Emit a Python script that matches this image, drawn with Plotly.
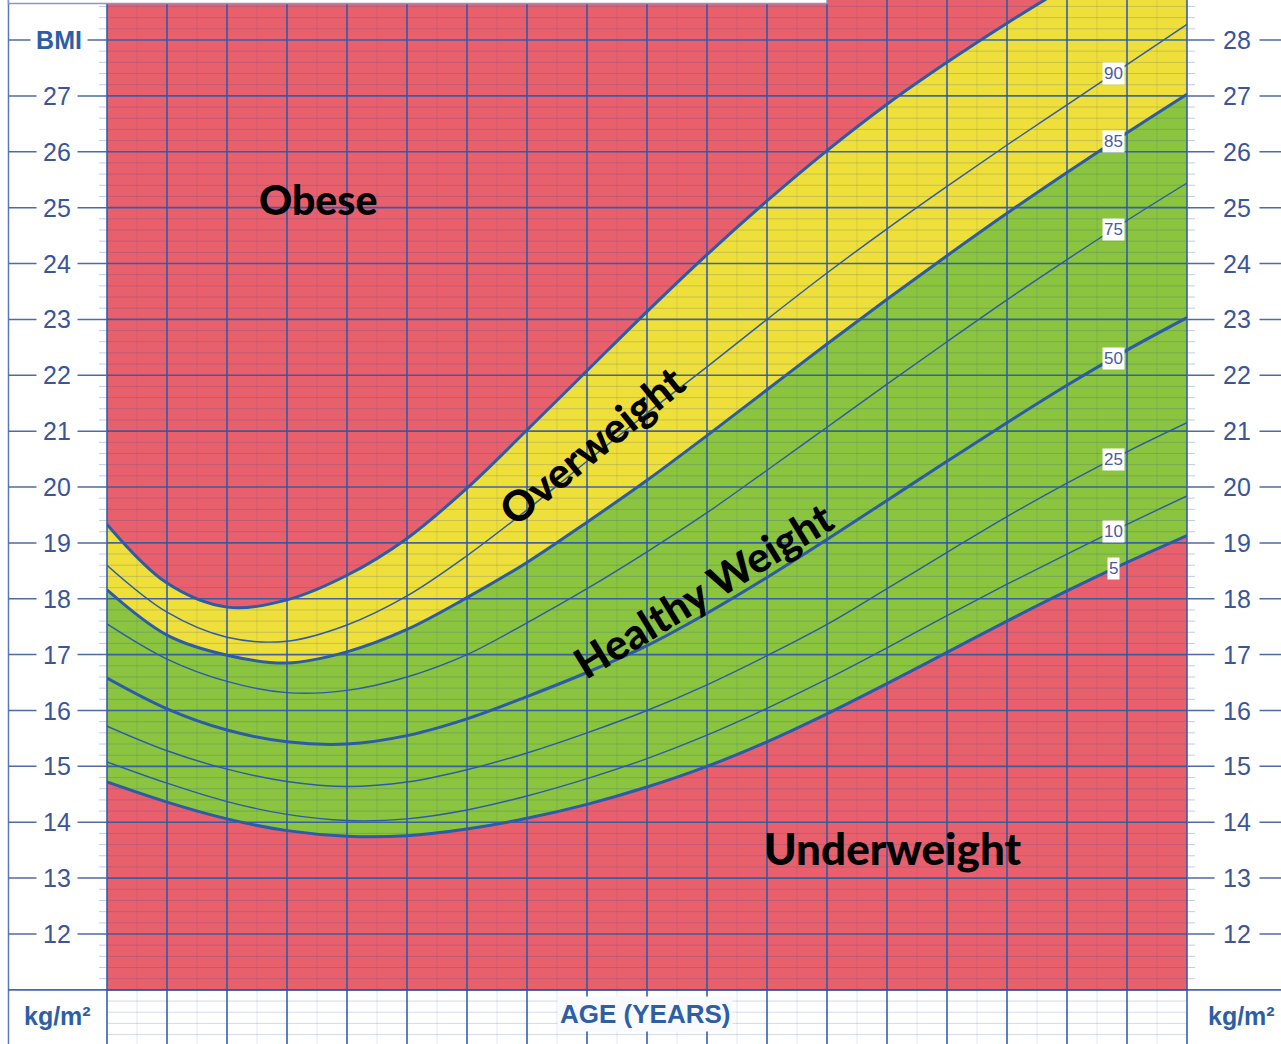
import numpy as np
import plotly.graph_objects as go

# ---------------- data ----------------
ages = [2, 3, 4, 5, 6, 7, 8, 9, 10, 11, 12, 13, 14, 15, 16, 17, 18, 19, 20]
p5 = [14.72, 14.36, 14.06, 13.85, 13.75, 13.76, 13.88, 14.07, 14.32, 14.63, 15.00, 15.44,
      15.94, 16.48, 17.04, 17.60, 18.14, 18.65, 19.13]
p10 = [15.08, 14.70, 14.37, 14.14, 14.03, 14.06, 14.22, 14.47, 14.78, 15.14, 15.56, 16.04,
       16.56, 17.12, 17.70, 18.26, 18.80, 19.33, 19.84]
p25 = [15.72, 15.28, 14.95, 14.73, 14.64, 14.72, 14.94, 15.24, 15.60, 16.00, 16.46, 16.98,
       17.54, 18.18, 18.83, 19.47, 20.07, 20.63, 21.15]
p50 = [16.58, 16.03, 15.65, 15.44, 15.40, 15.55, 15.85, 16.25, 16.68, 17.16, 17.74, 18.38,
       19.06, 19.76, 20.46, 21.15, 21.82, 22.45, 23.03]
p75 = [17.55, 16.92, 16.52, 16.32, 16.36, 16.60, 17.00, 17.57, 18.18, 18.84, 19.54, 20.30,
       21.07, 21.84, 22.60, 23.35, 24.07, 24.77, 25.44]
p85 = [18.16, 17.35, 16.99, 16.85, 17.05, 17.45, 18.02, 18.65, 19.37, 20.12, 20.92, 21.74,
       22.56, 23.36, 24.14, 24.90, 25.63, 26.34, 27.03]
p90 = [18.60, 17.76, 17.31, 17.24, 17.53, 18.05, 18.77, 19.59, 20.46, 21.32, 22.15, 23.00,
       23.83, 24.62, 25.38, 26.12, 26.84, 27.56, 28.28]
p95 = [19.33, 18.28, 17.85, 17.98, 18.42, 19.08, 19.98, 21.02, 22.08, 23.14, 24.16, 25.12,
       26.02, 26.85, 27.60, 28.30, 28.96, 29.60, 30.20]

percentile_names = ["5", "10", "25", "50", "75", "85", "90", "95"]
left_ticks = [12, 13, 14, 15, 16, 17, 18, 19, 20, 21, 22, 23, 24, 25, 26, 27]
right_ticks = [12, 13, 14, 15, 16, 17, 18, 19, 20, 21, 22, 23, 24, 25, 26, 27, 28]
age_ticks = list(range(2, 21))

zone_labels = ["Obese", "Overweight", "Healthy Weight", "Underweight"]

# ---------------- geometry ----------------
W, H = 1281, 1044
PL, PR = 107, 1187           # plot area in px (ages 2..20)
PX_PER_BMI = 55.875
Y_TOP = 28 + 40 / PX_PER_BMI
Y_BOT = 28 - (H - 40) / PX_PER_BMI
X_MIN, X_MAX = 2, 20


def pxx(px):
    return (px - PL) / (PR - PL)


def pxy(py):
    return (H - py) / H


RED = "#E9606D"
YELLOW = "#EFDF3B"
GREEN = "#8BC43F"
GRID = "rgba(45,88,170,0.9)"
MINOR = "rgba(40,70,150,0.20)"
CURVE = "#2C5BA8"
LABEL = "#3A559A"
TITLE = "#2E5EA6"

fig = go.Figure()

# coloured bands
fig.add_trace(go.Scatter(x=ages, y=p5, mode="lines", line=dict(width=0, shape="spline"),
                         hoverinfo="skip", showlegend=False))
fig.add_trace(go.Scatter(x=ages, y=p85, mode="lines", line=dict(width=0, shape="spline"),
                         fill="tonexty", fillcolor=GREEN, hoverinfo="skip", showlegend=False))
fig.add_trace(go.Scatter(x=ages, y=p85, mode="lines", line=dict(width=0, shape="spline"),
                         hoverinfo="skip", showlegend=False))
fig.add_trace(go.Scatter(x=ages, y=p95, mode="lines", line=dict(width=0, shape="spline"),
                         fill="tonexty", fillcolor=YELLOW, hoverinfo="skip", showlegend=False))


# grid
def hlines(values):
    xs, ys = [], []
    for v in values:
        xs += [X_MIN, X_MAX, None]
        ys += [v, v, None]
    return xs, ys


def vlines(values):
    xs, ys = [], []
    for v in values:
        xs += [v, v, None]
        ys += [Y_BOT, Y_TOP, None]
    return xs, ys


minor_h = [round(10.2 + 0.2 * i, 1) for i in range(93)]
minor_h = [v for v in minor_h if abs(v - round(v)) > 1e-6 and v < Y_TOP]
mx, my = hlines(minor_h)
fig.add_trace(go.Scatter(x=mx, y=my, mode="lines", line=dict(color=MINOR, width=1),
                         hoverinfo="skip", showlegend=False))
mvx, mvy = vlines([a + 0.5 for a in age_ticks[:-1]])
fig.add_trace(go.Scatter(x=mvx, y=mvy, mode="lines", line=dict(color="rgba(40,70,150,0.13)", width=1),
                         hoverinfo="skip", showlegend=False))
hx, hy = hlines(list(range(11, 29)))
fig.add_trace(go.Scatter(x=hx, y=hy, mode="lines", line=dict(color=GRID, width=1.7),
                         hoverinfo="skip", showlegend=False))
vx, vy = vlines(age_ticks[1:-1])
fig.add_trace(go.Scatter(x=vx, y=vy, mode="lines", line=dict(color=GRID, width=1.7),
                         hoverinfo="skip", showlegend=False))

# percentile curves
series = [p5, p10, p25, p50, p75, p85, p90, p95]
thick = {"5", "50", "85", "95"}
for name, vals in zip(percentile_names, series):
    fig.add_trace(go.Scatter(x=ages, y=vals, mode="lines", name=name,
                             line=dict(color=CURVE, width=3 if name in thick else 1.4,
                                       shape="spline"),
                             showlegend=False))

shapes = []
# red background (obese + underweight zones)
shapes.append(dict(type="rect", xref="x", yref="y", x0=X_MIN, x1=X_MAX, y0=11, y1=Y_TOP,
                   fillcolor=RED, line=dict(width=0), layer="below"))
# plot edges
for xp in (0, 1):
    shapes.append(dict(type="line", xref="paper", yref="paper", x0=xp, x1=xp, y0=0, y1=1,
                       line=dict(color=GRID, width=1.7)))
# left outer border
shapes.append(dict(type="line", xref="paper", yref="paper", x0=pxx(8.5), x1=pxx(8.5), y0=0, y1=1,
                   line=dict(color="#5A78B5", width=1.5)))
# BMI 11 line across full width
shapes.append(dict(type="line", xref="paper", yref="y", x0=pxx(8.5), x1=pxx(W), y0=11, y1=11,
                   line=dict(color=GRID, width=1.7)))
# tick dashes in margins
for v in left_ticks + [28]:
    shapes.append(dict(type="line", xref="paper", yref="y", x0=pxx(8.5), x1=0, y0=v, y1=v,
                       line=dict(color="#4E6AA8", width=1.5)))
for v in right_ticks:
    shapes.append(dict(type="line", xref="paper", yref="y", x0=1, x1=pxx(W), y0=v, y1=v,
                       line=dict(color="#4E6AA8", width=1.5)))
# minor margin ticks
for v in minor_h:
    if v < 11:
        continue
    shapes.append(dict(type="line", xref="paper", yref="y", x0=pxx(99), x1=0, y0=v, y1=v,
                       line=dict(color="rgba(90,110,170,0.35)", width=1)))
    shapes.append(dict(type="line", xref="paper", yref="y", x0=1, x1=pxx(PR + 8), y0=v, y1=v,
                       line=dict(color="rgba(90,110,170,0.35)", width=1)))
# cut-off white title box at top
shapes.append(dict(type="rect", xref="paper", yref="paper", x0=pxx(8.5), x1=pxx(827),
                   y0=pxy(3.5), y1=1.02, fillcolor="white",
                   line=dict(color="#8598C6", width=1.5)))

annotations = []
tick_font = dict(family="Arial, Liberation Sans", size=25, color=LABEL)
for v in left_ticks:
    annotations.append(dict(xref="paper", yref="y", x=pxx(57), y=v, text=str(v), showarrow=False,
                            xanchor="center", yanchor="middle",
                            font=tick_font, bgcolor="white", width=40, borderpad=0))
annotations.append(dict(xref="paper", yref="y", x=pxx(59), y=28, text="<b>BMI</b>", showarrow=False,
                        xanchor="center", yanchor="middle",
                        font=dict(family="Arial, Liberation Sans", size=25, color=TITLE),
                        bgcolor="white", width=56, borderpad=0))
for v in right_ticks:
    annotations.append(dict(xref="paper", yref="y", x=pxx(1237), y=v, text=str(v), showarrow=False,
                            xanchor="center", yanchor="middle",
                            font=tick_font, bgcolor="white", width=44, borderpad=0))
unit_font = dict(family="Arial, Liberation Sans", size=25, color=TITLE)
unit_text = "<b>kg/m²</b>"
annotations.append(dict(xref="paper", yref="paper", x=pxx(57), y=pxy(1016),
                        xanchor="center", yanchor="middle",
                        text=unit_text, showarrow=False, font=unit_font))
annotations.append(dict(xref="paper", yref="paper", x=pxx(1242), y=pxy(1016),
                        xanchor="center", yanchor="middle",
                        text=unit_text, showarrow=False, font=unit_font))
annotations.append(dict(xref="x", yref="paper", x=10.97, y=pxy(1014), text="<b>AGE (YEARS)</b>",
                        xanchor="center", yanchor="middle",
                        showarrow=False, bgcolor="#F8FAFD", borderpad=2,
                        font=dict(family="Arial, Liberation Sans", size=26, color=TITLE)))

# percentile labels on the curves
label_age = 18.77
for name, vals in zip(percentile_names, series):
    if name == "95":
        continue
    yv = float(np.interp(label_age, ages, vals))
    annotations.append(dict(xref="x", yref="y", x=label_age, y=yv, text=name, showarrow=False,
                            xanchor="center", yanchor="middle",
                            bgcolor="white", borderpad=1,
                            font=dict(family="Arial, Liberation Sans", size=17, color="#4B5A9C")))

# zone labels
zone_pos = {"Obese": (5.52, 25.14, 0, 41),
            "Overweight": (10.08, 20.75, -39, 42),
            "Healthy Weight": (11.93, 18.16, -31.5, 42),
            "Underweight": (15.10, 13.54, 0, 44)}
for z in zone_labels:
    xa, ya, ang, sz = zone_pos[z]
    annotations.append(dict(xref="x", yref="y", x=xa, y=ya, text=z, showarrow=False,
                            xanchor="center", yanchor="middle",
                            textangle=ang, font=dict(family="Lato", size=sz, color="black",
                                                     weight=900)))

fig.update_layout(
    width=W, height=H,
    margin=dict(l=PL, r=W - PR, t=0, b=0, pad=0),
    paper_bgcolor="white", plot_bgcolor="white",
    xaxis=dict(range=[X_MIN, X_MAX], showgrid=False, zeroline=False, showticklabels=False,
               ticks="", showline=False),
    yaxis=dict(range=[Y_BOT, Y_TOP], showgrid=False, zeroline=False, showticklabels=False,
               ticks="", showline=False),
    shapes=shapes,
    annotations=annotations,
    showlegend=False,
)

fig.write_html("out.html", config={"displayModeBar": False},
               post_script="document.body.style.margin='0';document.body.style.overflow='hidden';")
